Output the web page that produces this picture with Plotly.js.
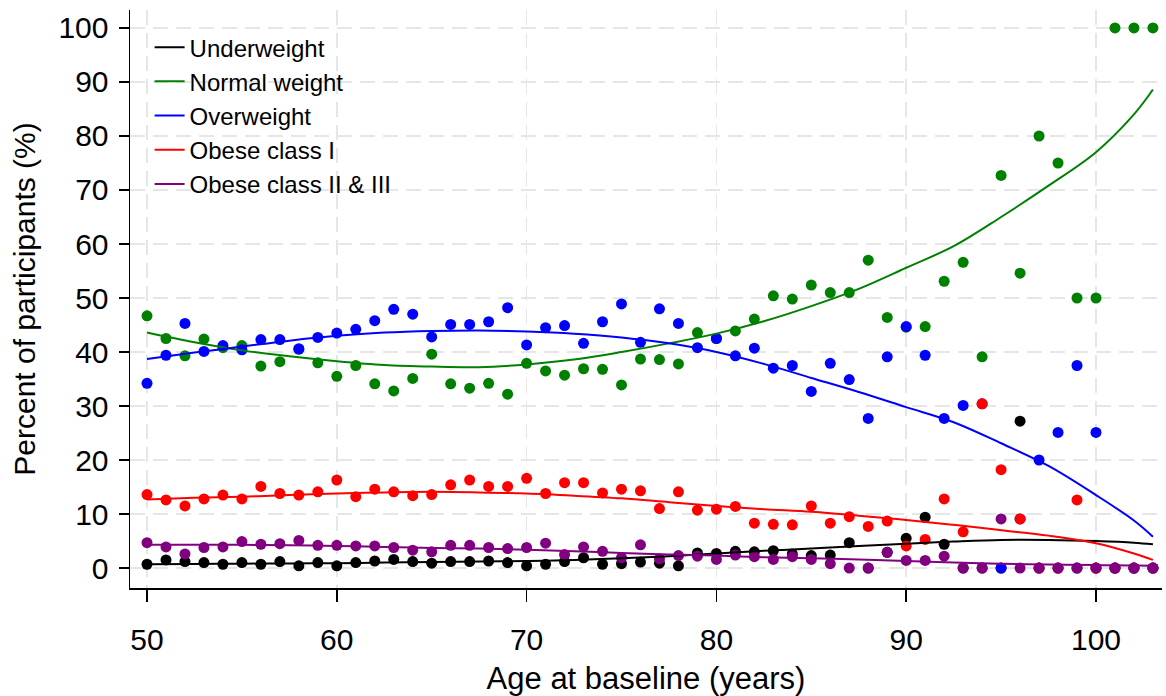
<!DOCTYPE html>
<html>
<head>
<meta charset="utf-8">
<script src="https://cdn.plot.ly/plotly-3.0.1.min.js"></script>
<style>
html,body{margin:0;padding:0;background:#fff;}
#chart{width:1166px;height:696px;}
</style>
</head>
<body>
<div id="chart"></div>
<script>
// ---- data ----
var ages = [50,51,52,53,54,55,56,57,58,59,60,61,62,63,64,65,66,67,68,69,70,71,72,73,74,75,76,77,78,79,80,81,82,83,84,85,86,87,88,89,90,91,92,93,94,95,96,97,98,99,100,101,102,103];

var underweight = [0.7,1.5,1.2,1.0,0.7,1.0,0.7,1.2,0.4,1.0,0.4,1.0,1.3,1.6,1.2,0.9,1.2,1.2,1.3,1.0,0.4,0.7,1.2,1.9,0.7,0.8,1.1,0.9,0.4,2.8,2.7,3.1,3.0,3.2,2.6,2.3,2.4,4.7,0,2.9,5.5,9.4,4.4,0,0,0,27.2,0,0,0,0,0,0,0];

var normalWeight = [46.7,42.5,39.3,42.4,40.8,41.2,37.4,38.2,40.5,38.0,35.5,37.5,34.1,32.8,35.1,39.6,34.1,33.3,34.2,32.2,37.9,36.5,35.7,36.9,36.8,33.9,38.7,38.6,37.8,43.6,42.5,43.9,46.1,50.4,49.8,52.4,51.0,51.0,57.0,46.4,44.6,44.7,53.1,56.6,39.1,72.7,54.6,80.0,75.0,50.0,50.0,100,100,100];

var overweight = [34.2,39.4,45.3,40.1,41.2,40.4,42.3,42.3,40.6,42.7,43.5,44.2,45.8,47.9,47.0,42.8,45.1,45.1,45.6,48.2,41.3,44.5,44.9,41.6,45.6,48.9,41.8,48.0,45.3,40.8,42.5,39.3,40.7,37.0,37.5,32.7,37.9,34.9,27.7,39.1,44.7,39.4,27.7,30.1,30.4,0,9.1,20.0,25.1,37.5,25.1,0,0,0];

var obese1 = [13.6,12.6,11.5,12.8,13.5,12.8,15.1,13.8,13.5,14.1,16.3,13.2,14.6,14.1,13.4,13.6,15.4,16.3,15.1,15.1,16.6,13.8,15.8,15.8,13.9,14.6,14.3,11.0,14.1,10.7,10.9,11.4,8.3,8.1,8.0,11.5,8.3,9.5,7.7,8.7,4.1,5.3,12.8,6.7,30.4,18.2,9.1,0,0,12.6,0,0,0,0];

var obese23 = [4.7,3.9,2.6,3.8,3.9,4.9,4.4,4.5,5.1,4.2,4.2,4.1,4.1,3.8,3.3,3.0,4.2,4.2,3.8,3.6,3.8,4.6,2.5,3.9,3.1,1.9,4.3,1.7,2.3,2.2,1.6,2.4,2.1,1.6,2.1,1.6,0.8,0,0,2.9,1.4,1.4,2.2,0,0,9.1,0,0,0,0,0,0,0,0];

// fitted curves
var fitAges = [50,52.5,55,57.5,60,62.5,65,67.5,70,72.5,75,77.5,80,82.5,85,87.5,90,92.5,95,97.5,100,102,103];
var fitUnder  = [0.7,0.75,0.8,0.85,0.9,1.0,1.1,1.2,1.3,1.5,1.8,2.2,2.7,3.2,3.6,4.1,4.5,4.9,5.2,5.2,5.0,4.7,4.4];
var fitNormal = [43.6,41.8,40.3,39.2,38.3,37.6,37.3,37.2,37.7,38.6,40.0,41.6,43.4,45.7,48.5,51.7,55.6,59.6,65.0,70.8,77.0,84.0,88.6];
var fitOver   = [38.7,39.9,41.0,42.1,43.0,43.6,43.9,44.0,43.8,43.4,42.7,41.6,40.0,37.8,35.2,32.6,29.8,27.0,23.1,18.9,13.5,8.8,5.8];
var fitObese1 = [12.7,13.0,13.2,13.5,13.8,14.0,14.1,14.0,13.8,13.4,12.9,12.2,11.5,10.9,10.4,9.7,8.9,8.0,7.0,6.0,4.6,2.7,1.5];
var fitObese23= [4.3,4.3,4.3,4.2,4.1,3.9,3.7,3.6,3.4,3.1,2.8,2.5,2.3,2.0,1.8,1.6,1.3,1.0,0.8,0.65,0.55,0.45,0.4];

var names  = ["Underweight","Normal weight","Overweight","Obese class I","Obese class II & III"];
var colors = ["#000000","#008000","#0000ff","#ff0000","#800080"];
var pts    = [underweight, normalWeight, overweight, obese1, obese23];
var fits   = [fitUnder, fitNormal, fitOver, fitObese1, fitObese23];

var traces = [];
for (var i = 0; i < names.length; i++) {
  traces.push({
    x: ages, y: pts[i], type: "scatter", mode: "markers",
    marker: {color: colors[i], size: 11},
    showlegend: false, hoverinfo: "skip"
  });
}
for (var j = 0; j < names.length; j++) {
  traces.push({
    x: fitAges, y: fits[j], type: "scatter", mode: "lines", name: names[j],
    line: {color: colors[j], width: 2, shape: "spline", smoothing: 1},
    hoverinfo: "skip"
  });
}

var FONT = "Liberation Sans, Arial, Helvetica, sans-serif";
var layout = {
  width: 1166, height: 696,
  margin: {l: 130, r: 4, t: 10, b: 108},
  paper_bgcolor: "#ffffff", plot_bgcolor: "#ffffff",
  font: {family: FONT, color: "#000"},
  showlegend: true,
  legend: {
    x: 0.019, y: 0.974, xanchor: "left", yanchor: "top",
    bgcolor: "rgba(0,0,0,0)", borderwidth: 0,
    font: {family: FONT, size: 24, color: "#000"},
    tracegroupgap: 0
  },
  xaxis: {
    range: [49.104, 103.478],
    tickvals: [50,60,70,80,90,100],
    automargin: false,
    showgrid: true, gridcolor: "#e6e6e6", gridwidth: 1.5, griddash: "15px,8px",
    zeroline: false,
    showline: true, linecolor: "#000", linewidth: 1.5,
    ticks: "outside", ticklen: 12, tickwidth: 1.5, tickcolor: "#000",
    ticklabelstandoff: 12,
    tickfont: {family: FONT, size: 30, color: "#000"},
    title: {text: "Age at baseline (years)", font: {family: FONT, size: 31, color: "#000"}, standoff: 13}
  },
  yaxis: {
    range: [-3.7, 103.33],
    tickvals: [0,10,20,30,40,50,60,70,80,90,100],
    automargin: false,
    showgrid: true, gridcolor: "#e6e6e6", gridwidth: 1.5, griddash: "15px,8px",
    zeroline: false,
    showline: true, linecolor: "#000", linewidth: 1.5,
    ticks: "outside", ticklen: 10, tickwidth: 1.5, tickcolor: "#000",
    ticklabelstandoff: 4,
    tickfont: {family: FONT, size: 30, color: "#000"},
    title: {text: "Percent of participants (%)", font: {family: FONT, size: 30, color: "#000"}, standoff: 14}
  }
};

Plotly.newPlot("chart", traces, layout, {staticPlot: true, displayModeBar: false});
</script>
</body>
</html>
